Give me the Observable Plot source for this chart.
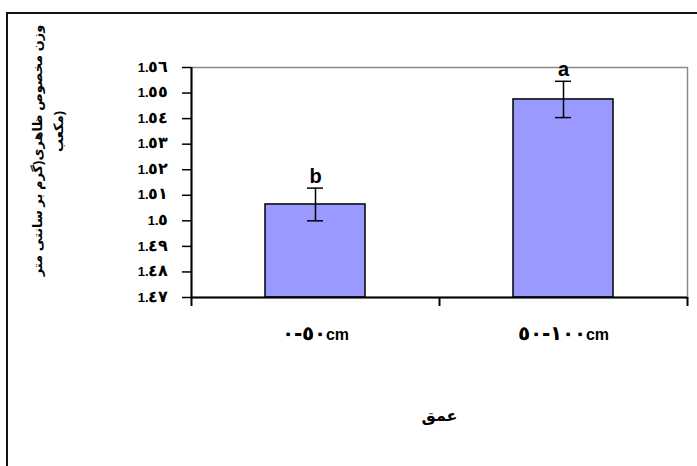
<!DOCTYPE html>
<html>
<head>
<meta charset="utf-8">
<script src="https://cdn.jsdelivr.net/npm/d3@7"></script>
<script src="https://cdn.jsdelivr.net/npm/@observablehq/plot@0.6"></script>
<style>
  @font-face {
    font-family: "ArDigits";
    src: local("DejaVu Sans Bold"), local("DejaVuSans-Bold");
    font-weight: bold;
    size-adjust: 125%;
    unicode-range: U+002D, U+0660-0669, U+06F0-06F9;
  }
  html, body { margin: 0; padding: 0; background: #fff; }
  #wrap { position: relative; width: 697px; height: 466px; overflow: hidden; background: #fff; }
  #border { position: absolute; left: 6px; top: 12px; width: 730px; height: 490px; border: 2px solid #111; box-sizing: border-box; }
  #chart { position: absolute; left: 0; top: 0; }
  #chart g[aria-label="x-axis tick label"] text,
  #chart g[aria-label="y-axis tick label"] text { unicode-bidi: bidi-override; direction: ltr; font-family: "ArDigits", "Liberation Sans", Arial, sans-serif; }
</style>
</head>
<body>
<div id="wrap">
  <div id="border"></div>
  <div id="chart"></div>
</div>
<script>
const categories = ["٠-٥٠cm", "٥٠-١٠٠cm"];
const means = [1.5064, 1.5475];
const errors = [0.0064, 0.0071];
const letters = ["b", "a"];
const yTicks = [1.47, 1.48, 1.49, 1.50, 1.51, 1.52, 1.53, 1.54, 1.55, 1.56];
const yTickLabels = ["1.٤٧", "1.٤٨", "1.٤٩", "1.٥", "1.٥١", "1.٥٢", "1.٥٣", "1.٥٤", "1.٥٥", "1.٥٦"];
const yTitleLine1 = "وزن مخصوص ظاهری(گرم بر سانتی متر";
const yTitleLine2 = "مکعب)";
const xTitle = "عمق";

const data = categories.map((c, i) => ({cat: c, mean: means[i], err: errors[i], letter: letters[i]}));
const yMin = yTicks[0], yMax = yTicks[yTicks.length - 1];

const W = 697, H = 466;
const mL = 191, mR = 10, mT = 67, mB = 169;
const half = (W - mL - mR) / categories.length / 2;
const barInset = 74;
const capInset = half - 8;

const chart = Plot.plot({
  width: W,
  height: H,
  marginLeft: mL,
  marginRight: mR,
  marginTop: mT,
  marginBottom: mB,
  style: {fontFamily: "'Liberation Sans', Arial, 'DejaVu Sans', sans-serif", fontWeight: "bold", color: "#000", background: "transparent"},
  x: {domain: categories, padding: 0},
  y: {domain: [yMin, yMax]},
  marks: [
    Plot.frame({stroke: "#8a8a8a", strokeWidth: 1.5}),
    Plot.barY(data, {x: "cat", y1: yMin, y2: "mean", fill: "#9999FF", stroke: "#000", strokeWidth: 1.5, insetLeft: barInset, insetRight: barInset}),
    Plot.ruleX(data, {x: "cat", y1: d => d.mean - d.err, y2: d => d.mean + d.err, stroke: "#000", strokeWidth: 1.5}),
    Plot.tickY(data, {x: "cat", y: d => d.mean - d.err, stroke: "#000", strokeWidth: 1.5, insetLeft: capInset, insetRight: capInset}),
    Plot.tickY(data, {x: "cat", y: d => d.mean + d.err, stroke: "#000", strokeWidth: 1.5, insetLeft: capInset, insetRight: capInset}),
    Plot.text(data, {x: "cat", y: d => d.mean + d.err, text: "letter", dy: -12, fontSize: 20, fontWeight: "bold", fill: "#000"}),
    Plot.ruleY([yMin], {stroke: "#000", strokeWidth: 2}),
    Plot.ruleX([categories[0]], {dx: -half, stroke: "#000", strokeWidth: 2}),
    Plot.ruleX(categories, {x: d => d, y1: yMin, y2: yMin, insetBottom: -9, dx: -half, stroke: "#000", strokeWidth: 2}),
    Plot.ruleX([categories[categories.length - 1]], {x: d => d, y1: yMin, y2: yMin, insetBottom: -9, dx: half, stroke: "#000", strokeWidth: 2}),
    Plot.axisY({ticks: yTicks, tickFormat: d => yTickLabels[Math.round((d - yMin) * 100)], tickSize: 9, tickPadding: 14, fontSize: 13, stroke: "#000", strokeWidth: 1.5, label: null}),
    Plot.axisX({tickSize: 0, tickPadding: 31, fontSize: 16, label: null}),
    Plot.text([yTitleLine1], {frameAnchor: "left", textAnchor: "middle", text: d => d, rotate: -90, dx: -154, dy: -32, fontSize: 13, fontWeight: "bold", fill: "#000"}),
    Plot.text([yTitleLine2], {frameAnchor: "left", textAnchor: "middle", text: d => d, rotate: -90, dx: -133, dy: -51, fontSize: 13, fontWeight: "bold", fill: "#000"}),
    Plot.text([xTitle], {frameAnchor: "bottom", text: d => d, dy: 123, fontSize: 16, fontWeight: "bold", fill: "#000"})
  ]
});
document.getElementById("chart").appendChild(chart);
</script>
</body>
</html>
